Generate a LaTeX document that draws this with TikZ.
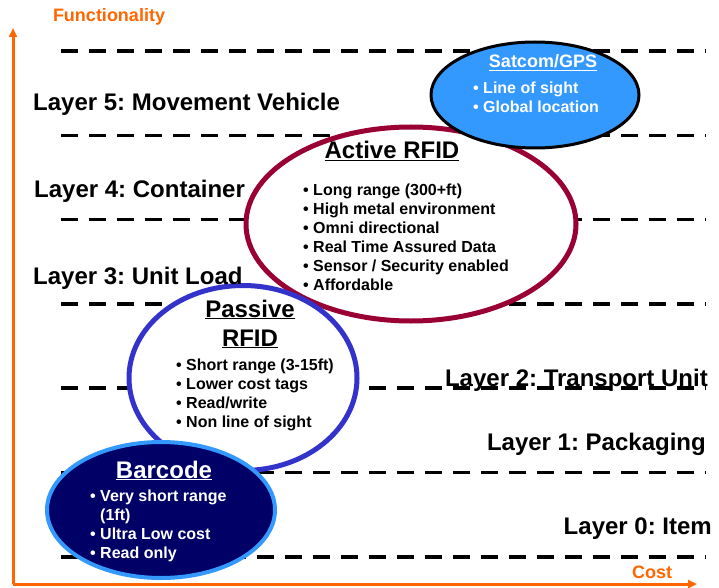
\documentclass[tikz,border=0pt]{standalone}
\usepackage{fontspec}
\setmainfont{Liberation Sans}
\frenchspacing
\usetikzlibrary{shapes.geometric, arrows.meta}

\definecolor{axisorange}{HTML}{FF6600}
\definecolor{activered}{HTML}{990033}
\definecolor{passiveblue}{HTML}{3333CC}
\definecolor{satblue}{HTML}{3399FF}
\definecolor{barnavy}{HTML}{000066}

\tikzset{
    layerline/.style={line width=3.5pt, dash pattern=on 17pt off 11pt},
    axisline/.style={axisorange, line width=3pt, -{Triangle[length=9pt, width=8pt]}},
    layerlabel/.style={inner sep=0pt, font=\bfseries\fontsize{24}{28}\selectfont},
    axislabel/.style={axisorange, inner sep=0pt, font=\bfseries\fontsize{18}{21}\selectfont},
    techblob/.style={ellipse, inner sep=0pt},
    item/.style={anchor=base west, inner sep=0pt, font=\bfseries\fontsize{16}{19}\selectfont},
    title/.style={anchor=base, inner sep=0pt, font=\bfseries\fontsize{24}{28}\selectfont}
}

\begin{document}
\begin{tikzpicture}[x=1pt, y=-1pt]
    \useasboundingbox (0,0) rectangle (719,588);

    % Axes
    \coordinate (origin) at (13,584);
    \coordinate (ytip) at (13,28);
    \coordinate (xtip) at (697,584);
    \draw[axisline] (origin) -- (ytip);
    \draw[axisline] (origin) -- (xtip);
    \node[axislabel, anchor=base] (functionality) at (109,22) {Functionality};
    \node[axislabel, anchor=base] (cost) at (652,578) {Cost};

    % Dashed layer borders
    \def\layergap{84.3}
    \foreach \i in {0,...,6} {
        \pgfmathsetmacro\ypos{51 + \i*\layergap}
        \draw[layerline] (61,\ypos) -- (706,\ypos);
    }

    % Active RFID
    \node[techblob, draw=activered, line width=5pt, fill=white,
        minimum width=330pt, minimum height=194pt] (active) at (411,224) {};
    \node[title] (activetitle) at (392,159) {\underline{Active RFID}};
    \foreach \txt [count=\i] in {Long range (300+ft), High metal environment,
        Omni directional, Real Time Assured Data, Sensor / Security enabled,
        Affordable} {
        \node[item] (activeitem\i) at (303,176+19*\i) {\textbullet\ \txt};
    }

    % Passive RFID
    \node[techblob, draw=passiveblue, line width=5pt, fill=white,
        minimum width=228pt, minimum height=185pt] (passive) at (243,378) {};
    \node[title] (passivetitle) at (250,317) {\underline{Passive}};
    \node[title] (passivetitleb) at (250,346) {\underline{RFID}};
    \foreach \txt [count=\i] in {Short range (3-15ft), Lower cost tags,
        Read/write, Non line of sight} {
        \node[item] (passiveitem\i) at (176,351+19*\i) {\textbullet\ \txt};
    }

    % Barcode
    \node[techblob, draw=satblue, line width=4pt, fill=barnavy,
        minimum width=228pt, minimum height=136pt] (barcode) at (161,510) {};
    \node[title, white] (barcodetitle) at (164,478) {\underline{Barcode}};
    \foreach \txt [count=\i] in {\textbullet\ Very short range,
        \phantom{\textbullet\ }(1ft), \textbullet\ Ultra Low cost,
        \textbullet\ Read only} {
        \node[item, white] (barcodeitem\i) at (90,481.7+19.3*\i) {\txt};
    }

    % Satcom/GPS
    \node[techblob, draw=black, line width=3pt, fill=satblue,
        minimum width=208pt, minimum height=106pt] (satcom) at (535,95) {};
    \node[title, white, font=\bfseries\fontsize{18}{21}\selectfont]
        (satcomtitle) at (543,68) {\underline{Satcom/GPS}};
    \foreach \txt [count=\i] in {Line of sight, Global location} {
        \node[item, white] (satcomitem\i) at (473,75+19*\i) {\textbullet\ \txt};
    }

    % Layer names
    \node[layerlabel, anchor=base west] (layer5) at (33,111) {Layer 5: Movement Vehicle};
    \node[layerlabel, anchor=base west] (layer4) at (34,197) {Layer 4: Container};
    \node[layerlabel, anchor=base west] (layer3) at (33,284) {Layer 3: Unit Load};
    \node[layerlabel, anchor=base east] (layer2) at (708,386) {Layer 2: Transport Unit};
    \node[layerlabel, anchor=base east] (layer1) at (706,450) {Layer 1: Packaging};
    \node[layerlabel, anchor=base east] (layer0) at (712,534) {Layer 0: Item};
\end{tikzpicture}
\end{document}
